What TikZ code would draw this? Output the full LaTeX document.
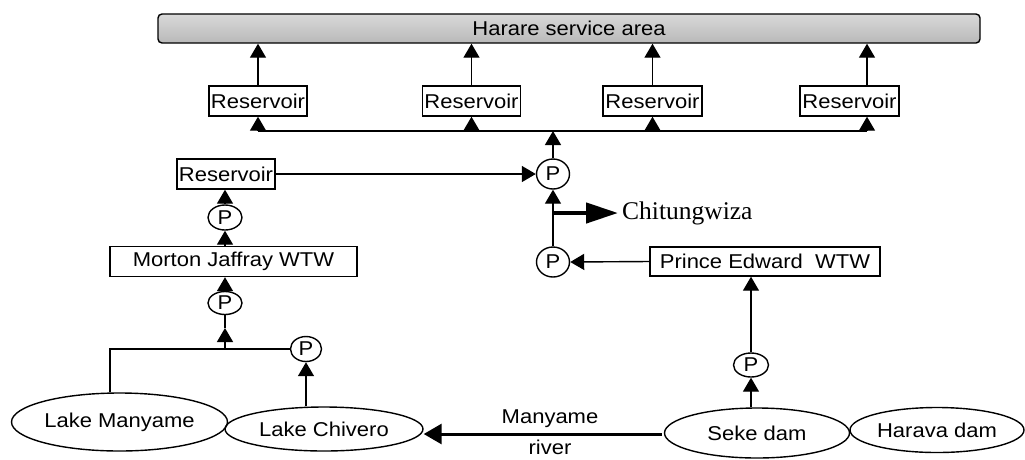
\documentclass[tikz,border=0pt]{standalone}
\usepackage{fontspec}
\setmainfont{Liberation Sans}[FakeStretch=1.1]
\newfontfamily\serifs{Liberation Serif}
\usetikzlibrary{shapes.geometric,arrows.meta}
\begin{document}
\begin{tikzpicture}[x=1pt,y=-1pt,
  ln/.style={line width=1.4pt},
  arr/.style={ln,-{Triangle[length=14pt,width=16pt]}},
  txt/.style={font=\fontsize{20}{23}\selectfont},
  box/.style={draw,ln,rectangle,inner sep=0pt,minimum height=30pt,txt},
  pump/.style={draw,ln,ellipse,inner sep=0pt,minimum width=33pt,minimum height=25pt,txt},
  water/.style={draw,ln,ellipse,inner sep=0pt,txt}]
\useasboundingbox (0,0) rectangle (1025,459);

% service area bar
\node[draw,ln,rounded corners=4pt,top color=gray!30,bottom color=gray!55,
      minimum width=822pt,minimum height=29pt,inner sep=0pt,txt] (H) at (569,28.5) {Harare service area};

% reservoirs
\node[box,minimum width=98pt] (R1) at (258,101) {Reservoir};
\node[box,minimum width=98pt] (R2) at (471.5,101) {Reservoir};
\node[box,minimum width=99pt] (R3) at (652.5,101) {Reservoir};
\node[box,minimum width=99pt] (R4) at (849.5,101) {Reservoir};
\node[box,minimum width=98pt] (R0) at (226,174) {Reservoir};

\coordinate (d1) at (258,131);
\coordinate (d4) at (867,131);
\draw[ln] (d1) -- (d4);
\draw[arr] (d1) -- (R1.south);
\draw[arr] (R2.south |- d1) -- (R2.south);
\draw[arr] (R3.south |- d1) -- (R3.south);
\draw[arr] (d4) -- (d4 |- R4.south);
\draw[arr] (R1.north) -- (R1.north |- H.south);
\draw[arr] (R2.north) -- (R2.north |- H.south);
\draw[arr] (R3.north) -- (R3.north |- H.south);
\draw[arr] (d4 |- R4.north) -- (d4 |- H.south);

% central pumps
\node[pump,minimum width=33pt,minimum height=30pt] (P1) at (553,174) {P};
\node[pump,minimum width=33pt,minimum height=30pt] (P2) at (553,262) {P};
\draw[arr] (P1.north) -- (P1.north |- d1);
\draw[arr] (R0.east) -- (P1.west);
\draw[arr] (P2.north) -- (P1.south);

% Chitungwiza
\coordinate (c) at (553,213);
\node[anchor=west,inner sep=4pt,font=\serifs\fontsize{25.5}{29}\selectfont] (chi) at (618,213) {Chitungwiza};
\draw[line width=4.5pt,-{Triangle[length=32pt,width=20pt]}] (c) -- (chi.west);

% Prince Edward
\node[box,minimum width=230pt,minimum height=29pt] (PE) at (765,261.5) {Prince Edward\ \ WTW};
\draw[arr] (PE.west) -- (P2.east);
\node[pump,minimum width=35pt,minimum height=24pt] (PS) at (751,365) {P};
\draw[arr] (PS.north) -- (PS.north |- PE.south);

% dams
\node[water,minimum width=185pt,minimum height=50pt] (SD) at (757,433) {Seke dam};
\node[water,minimum width=174pt,minimum height=45pt] (HD) at (937,430) {Harava dam};
\draw[arr] (PS.south |- SD.north) -- (PS.south);

% lakes
\node[water,minimum width=198pt,minimum height=44pt] (LC) at (324,429) {Lake Chivero};
\node[water,minimum width=216pt,minimum height=58pt] (LM) at (119.5,422) {Lake Manyame};

% Manyame river
\coordinate (rv) at (662,434);
\draw[line width=3pt,-{Triangle[length=18pt,width=20pt]}] (rv) -- (rv -| LC.east);
\node[txt] (mt) at (550,419) {Manyame};
\node[txt] (mr) at (550,447) {river};

% Morton Jaffray branch
\node[pump,minimum width=31pt,minimum height=25pt] (PC) at (306,349) {P};
\draw[arr] (PC.south |- LC.north) -- (PC.south);
\coordinate (j0) at (110,349);
\draw[ln] (j0 |- LM.north) -- (j0) -- (PC.west);
\node[pump,minimum width=34pt,minimum height=23pt] (PM1) at (225,303) {P};
\coordinate (j1) at (225,349);
\coordinate (j2) at (225,328);
\draw[arr] (j1) -- (j2);
\draw[ln] (j2) -- (PM1.south);
\node[box,minimum width=247pt] (MJ) at (233.5,261.5) {Morton Jaffray WTW};
\draw[arr] (PM1.north) -- (PM1.north |- MJ.south);
\node[pump,minimum width=34pt,minimum height=25pt] (PM2) at (225,217.5) {P};
\draw[arr] (PM2.north |- MJ.north) -- (PM2.south);
\draw[arr] (PM2.north) -- (PM2.north |- R0.south);
\end{tikzpicture}
\end{document}
